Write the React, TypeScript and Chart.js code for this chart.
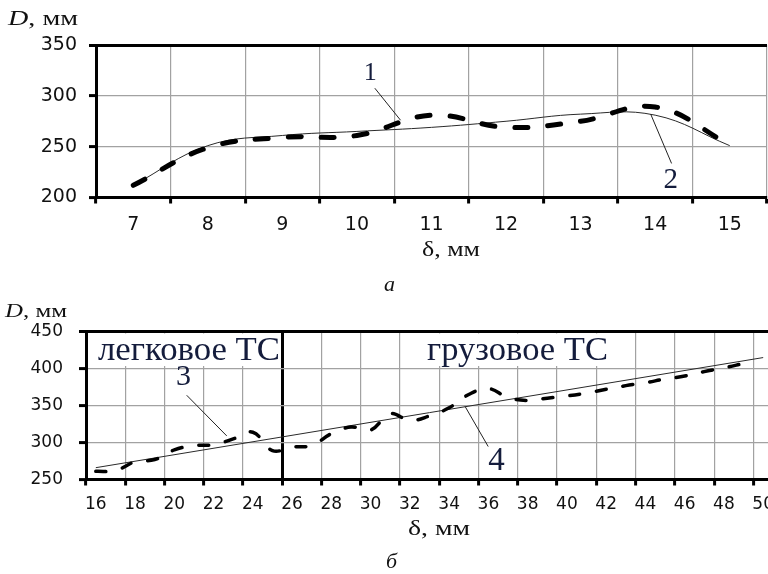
import React, { useEffect, useRef } from 'react';
import { Chart, registerables } from 'chart.js';

Chart.register(...registerables);

// ---------- chart а ----------
const topCategories = ['7', '8', '9', '10', '11', '12', '13', '14', '15'];
const curve1 = [212, 249, 259, 261, 281, 269, 275, 289, 252]; // dashed, "1"
const curve2 = [212, 251, 261, 265, 269, 275, 282, 281, 251]; // solid, "2"
const topYMin = 200;
const topYMax = 350;
const topYStep = 50;

// ---------- chart б ----------
const bottomCategories = [
  '16', '17', '18', '19', '20', '21', '22', '23', '24', '25',
  '26', '27', '28', '29', '30', '31', '32', '33', '34', '35',
  '36', '37', '38', '39', '40', '41', '42', '43', '44', '45',
  '46', '47', '48', '49', '50',
];
const curve3 = [
  261, 262, 274, 277, 290, 296, 297, 305, 314, 289,
  294, 296, 312, 321, 317, 339, 330, 336, 347, 365,
  373, 361, 357, 360, 363, 367, 372, 377, 381, 386,
  390, 396, 401, 407, null,
]; // dashed, "3"
const curve4 = [
  266, null, null, null, null, null, null, null, null, null,
  null, null, null, null, null, null, null, null, null, null,
  null, null, null, null, null, null, null, null, null, null,
  null, null, null, null, 415,
]; // solid, "4"
const bottomYMin = 250;
const bottomYMax = 450;
const bottomYStep = 50;
const dividerIndex = 10; // boundary between 25 and 26

type Callout = { text: string; size: number; at: [number, number]; from: [number, number]; to: [number, number] };

const topCallouts: Callout[] = [
  { text: '1', size: 26, at: [3.18, 322.5], from: [3.24, 307.5], to: [3.585, 276] },
  { text: '2', size: 29, at: [7.21, 217], from: [7.22, 233.5], to: [6.94, 282] },
];
const bottomCallouts: Callout[] = [
  { text: '3', size: 30, at: [4.47, 388], from: [4.63, 364], to: [6.67, 309] },
  { text: '4', size: 33, at: [20.41, 274.5], from: [19.99, 294.6], to: [18.81, 349] },
];

const SERIF = '"Liberation Serif", "Times New Roman", serif';
const SANS = '"DejaVu Sans", Verdana, sans-serif';
const GRID = '#a2a2a2';
const INK = '#141c3c';

type Run = { text: string; font: string };

function drawRuns(ctx: CanvasRenderingContext2D, runs: Run[], x: number, y: number, targetWidth?: number, color = '#111') {
  ctx.save();
  let w = 0;
  for (const r of runs) {
    ctx.font = r.font;
    w += ctx.measureText(r.text).width;
  }
  const sx = targetWidth ? targetWidth / w : 1;
  ctx.translate(x, y);
  ctx.scale(sx, 1);
  ctx.textAlign = 'left';
  ctx.textBaseline = 'alphabetic';
  ctx.fillStyle = color;
  let cx = 0;
  for (const r of runs) {
    ctx.font = r.font;
    ctx.fillText(r.text, cx, 0);
    cx += ctx.measureText(r.text).width;
  }
  ctx.restore();
}

function drawCallouts(chart: any, callouts: Callout[]) {
  const ctx: CanvasRenderingContext2D = chart.ctx;
  const xs = chart.scales.x;
  const ys = chart.scales.y;
  ctx.save();
  for (const c of callouts) {
    ctx.strokeStyle = '#222';
    ctx.lineWidth = 1;
    ctx.beginPath();
    ctx.moveTo(xs.getPixelForValue(c.from[0]), ys.getPixelForValue(c.from[1]));
    ctx.lineTo(xs.getPixelForValue(c.to[0]), ys.getPixelForValue(c.to[1]));
    ctx.stroke();
    ctx.font = `${c.size}px ${SERIF}`;
    ctx.fillStyle = INK;
    ctx.textAlign = 'center';
    ctx.textBaseline = 'middle';
    ctx.fillText(c.text, xs.getPixelForValue(c.at[0]), ys.getPixelForValue(c.at[1]));
  }
  ctx.restore();
}

function ChartCanvas({ width, height, top, build }: { width: number; height: number; top: number; build: () => any }) {
  const ref = useRef<HTMLCanvasElement | null>(null);
  useEffect(() => {
    if (!ref.current) return;
    const chart = new Chart(ref.current, build());
    return () => chart.destroy();
  }, []);
  return (
    <canvas
      ref={ref}
      width={width}
      height={height}
      style={{ position: 'absolute', left: 0, top, width, height, display: 'block' }}
    />
  );
}

function fixX(h: number) {
  return (s: any) => {
    s.height = h;
    s.paddingLeft = 0;
    s.paddingRight = 0;
  };
}

function buildTop() {
  const H = 300;
  return {
    type: 'line',
    data: {
      labels: topCategories,
      datasets: [
        {
          data: curve1,
          borderColor: '#000',
          borderWidth: 5,
          borderDash: [13, 20],
          borderCapStyle: 'round',
          tension: 0.4,
          pointRadius: 0,
          fill: false,
        },
        {
          data: curve2,
          borderColor: '#2a2a2a',
          borderWidth: 1,
          tension: 0.4,
          pointRadius: 0,
          fill: false,
        },
      ],
    },
    options: {
      responsive: false,
      animation: false,
      events: [],
      layout: { padding: { top: 45, right: 13, left: 0, bottom: 0 } },
      plugins: { legend: { display: false }, tooltip: { enabled: false }, title: { display: false } },
      scales: {
        x: {
          type: 'category',
          offset: true,
          afterFit: fixX(H - 197.5),
          grid: {
            offset: true,
            color: GRID,
            lineWidth: 1.2,
            tickColor: '#000',
            tickLength: 6,
            tickWidth: 3,
          },
          border: { color: '#000', width: 3 },
          ticks: { font: { family: SANS, size: 19 }, color: '#111', padding: 10, autoSkip: false, maxRotation: 0 },
        },
        y: {
          min: topYMin,
          max: topYMax,
          afterFit: (s: any) => { s.width = 96; },
          grid: {
            color: (c: any) => (c.tick && c.tick.value === topYMax ? '#000' : GRID),
            lineWidth: (c: any) => (c.tick && c.tick.value === topYMax ? 3 : 1.2),
            tickColor: '#000',
            tickLength: 7,
            tickWidth: 3,
          },
          border: { color: '#000', width: 3 },
          ticks: { stepSize: topYStep, font: { family: SANS, size: 19 }, color: '#111', padding: 12 },
        },
      },
    },
    plugins: [
      {
        id: 'topText',
        afterDraw(chart: any) {
          const ctx = chart.ctx;
          drawCallouts(chart, topCallouts);
          drawRuns(ctx, [
            { text: 'D', font: `italic 20px ${SERIF}` },
            { text: ', мм', font: `20px ${SERIF}` },
          ], 8, 25, 70);
          drawRuns(ctx, [{ text: 'δ, мм', font: `21px ${SERIF}` }], 422, 256, 58);
          drawRuns(ctx, [{ text: 'а', font: `italic 22px ${SERIF}` }], 384, 291);
        },
      },
    ],
  };
}

function buildBottom() {
  const H = 274;
  return {
    type: 'line',
    data: {
      labels: bottomCategories,
      datasets: [
        {
          data: curve3,
          borderColor: '#000',
          borderWidth: 3.5,
          borderDash: [10, 17],
          borderCapStyle: 'round',
          tension: 0.4,
          pointRadius: 0,
          fill: false,
        },
        {
          data: curve4,
          borderColor: '#2a2a2a',
          borderWidth: 1,
          tension: 0,
          spanGaps: true,
          pointRadius: 0,
          fill: false,
        },
      ],
    },
    options: {
      responsive: false,
      animation: false,
      events: [],
      layout: { padding: { top: 31.7, right: 7, left: 0, bottom: 0 } },
      plugins: { legend: { display: false }, tooltip: { enabled: false }, title: { display: false } },
      scales: {
        x: {
          type: 'category',
          offset: true,
          afterFit: fixX(H - 179.5),
          grid: {
            offset: true,
            color: (c: any) =>
              typeof c.index === 'number' && c.index % 2 === 0 ? (c.index === dividerIndex ? '#000' : GRID) : 'rgba(0,0,0,0)',
            lineWidth: (c: any) => (c.index === dividerIndex ? 3 : 1.2),
            tickColor: (c: any) => (typeof c.index === 'number' && c.index % 2 === 0 ? '#000' : 'rgba(0,0,0,0)'),
            tickLength: 6,
            tickWidth: 3,
          },
          border: { color: '#000', width: 3 },
          ticks: {
            font: { family: SANS, size: 17 },
            color: '#111',
            padding: 9,
            autoSkip: false,
            maxRotation: 0,
            callback: (_v: any, i: number) => (i % 2 === 0 ? bottomCategories[i] : ''),
          },
        },
        y: {
          min: bottomYMin,
          max: bottomYMax,
          afterFit: (s: any) => { s.width = 86; },
          grid: {
            color: (c: any) => (c.tick && c.tick.value === bottomYMax ? '#000' : GRID),
            lineWidth: (c: any) => (c.tick && c.tick.value === bottomYMax ? 3 : 1.2),
            tickColor: '#000',
            tickLength: 7,
            tickWidth: 3,
          },
          border: { color: '#000', width: 3 },
          ticks: { stepSize: bottomYStep, font: { family: SANS, size: 17 }, color: '#111', padding: 16 },
        },
      },
    },
    plugins: [
      {
        id: 'bottomBoxes',
        beforeDatasetsDraw(chart: any) {
          const ctx = chart.ctx;
          ctx.save();
          ctx.fillStyle = '#fff';
          ctx.fillRect(88.5, 33.5, 191, 32.5);
          ctx.fillRect(402, 33.5, 230, 32.5);
          ctx.restore();
        },
      },
      {
        id: 'bottomText',
        afterDraw(chart: any) {
          const ctx = chart.ctx;
          drawRuns(ctx, [{ text: 'легковое ТС', font: `34px ${SERIF}` }], 98, 59.5, 182, INK);
          drawRuns(ctx, [{ text: 'грузовое ТС', font: `34px ${SERIF}` }], 427, 59.7, 181, INK);
          drawCallouts(chart, bottomCallouts);
          drawRuns(ctx, [
            { text: 'D', font: `italic 19px ${SERIF}` },
            { text: ', мм', font: `19px ${SERIF}` },
          ], 5, 16.5, 62);
          drawRuns(ctx, [{ text: 'δ, мм', font: `21px ${SERIF}` }], 408, 235, 62);
          drawRuns(ctx, [{ text: 'б', font: `italic 22px ${SERIF}` }], 386, 268);
        },
      },
    ],
  };
}

export default function App() {
  return (
    <div
      style={{
        position: 'absolute',
        left: 0,
        top: 0,
        width: 768,
        height: 574,
        overflow: 'hidden',
        background: '#fff',
      }}
    >
      <ChartCanvas width={780} height={300} top={0} build={buildTop} />
      <ChartCanvas width={780} height={274} top={300} build={buildBottom} />
    </div>
  );
}
